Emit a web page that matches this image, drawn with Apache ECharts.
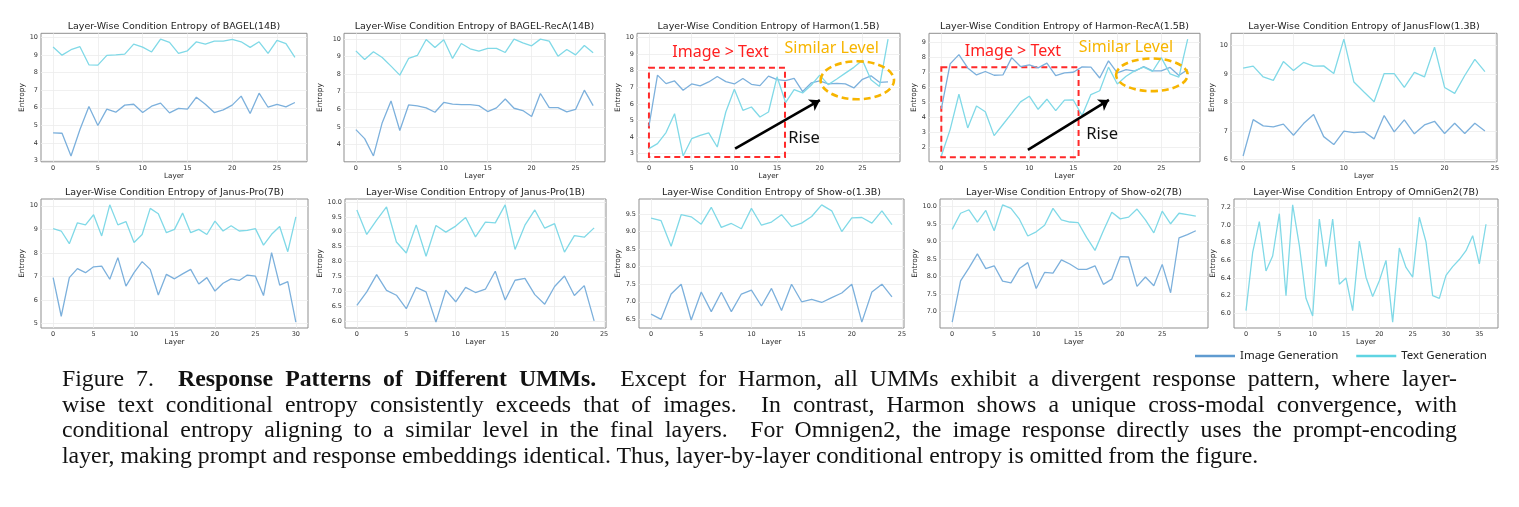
<!DOCTYPE html>
<html>
<head>
<meta charset="utf-8">
<title>Layer-Wise Condition Entropy</title>
<script src="https://cdn.jsdelivr.net/npm/echarts@6/dist/echarts.min.js"></script>
<style>
  body { margin: 0; background: #fff; }
  #chart { position: absolute; left: 0; top: 0; width: 1519px; height: 507px; }
  #caption { position: absolute; left: 62px; top: 366px; width: 1395px;
             font-family: "Liberation Serif", "Times New Roman", serif;
             font-size: 23.8px; line-height: 25.6px; color: #111; }
  #caption div { white-space: nowrap; text-align: justify; text-align-last: justify; }
  #caption div.last { text-align-last: left; }
</style>
</head>
<body>
<div id="chart"></div>
<div id="caption">
  <div>Figure 7.&nbsp; <b>Response Patterns of Different UMMs.</b>&nbsp; Except for Harmon, all UMMs exhibit a divergent response pattern, where layer-</div>
  <div>wise text conditional entropy consistently exceeds that of images.&nbsp; In contrast, Harmon shows a unique cross-modal convergence, with</div>
  <div>conditional entropy aligning to a similar level in the final layers.&nbsp; For Omnigen2, the image response directly uses the prompt-encoding</div>
  <div class="last">layer, making prompt and response embeddings identical. Thus, layer-by-layer conditional entropy is omitted from the figure.</div>
</div>
<script>
// entropy per layer (image generation / text generation)
var bagelImage = [4.57, 4.55, 3.26, 4.76, 6.07, 4.99, 5.92, 5.75, 6.15, 6.2, 5.73, 6.09, 6.26, 5.71, 5.96, 5.92, 6.6, 6.2, 5.73, 5.88, 6.15, 6.66, 5.67, 6.83, 6.03, 6.19, 6.05, 6.3];
var bagelText = [9.45, 8.99, 9.3, 9.47, 8.44, 8.42, 8.98, 9.0, 9.05, 9.62, 9.45, 9.17, 9.9, 9.72, 9.09, 9.24, 9.75, 9.62, 9.79, 9.79, 9.89, 9.75, 9.43, 9.75, 9.09, 9.83, 9.64, 8.86];
var bagelRecaImage = [4.84, 4.33, 3.34, 5.24, 6.48, 4.79, 6.25, 6.2, 6.08, 5.83, 6.39, 6.29, 6.27, 6.27, 6.21, 5.87, 6.08, 6.59, 6.06, 5.93, 5.59, 6.9, 6.1, 6.1, 5.85, 5.99, 7.09, 6.21];
var bagelRecaText = [9.33, 8.84, 9.28, 8.95, 8.46, 7.95, 8.9, 9.07, 9.98, 9.52, 9.96, 8.9, 9.75, 9.45, 9.32, 9.47, 9.47, 9.24, 10.0, 9.79, 9.62, 10.0, 9.89, 9.03, 9.41, 9.1, 9.64, 9.22];
var harmonImage = [4.65, 7.73, 7.22, 7.38, 6.82, 7.2, 7.08, 7.32, 7.65, 7.34, 7.2, 7.53, 7.18, 7.1, 7.67, 7.46, 7.4, 7.53, 6.74, 7.26, 7.38, 7.2, 7.24, 7.2, 6.96, 7.48, 7.69, 7.3, 7.32];
var harmonText = [3.3, 3.6, 4.27, 5.41, 2.86, 3.9, 4.1, 4.25, 3.4, 5.51, 6.88, 5.61, 5.81, 5.21, 5.51, 7.63, 6.08, 6.86, 6.66, 7.12, 7.73, 7.16, 7.5, 7.85, 8.2, 8.63, 7.45, 7.05, 9.9];
var harmonRecaImage = [4.55, 7.54, 8.15, 7.27, 6.8, 7.03, 6.78, 6.8, 7.95, 7.36, 7.47, 7.27, 7.59, 6.76, 6.94, 6.98, 7.34, 7.32, 6.6, 7.74, 6.94, 7.16, 7.05, 7.36, 7.07, 7.07, 7.3, 6.76, 7.16];
var harmonRecaText = [1.42, 3.17, 5.52, 3.28, 4.74, 4.36, 2.77, 3.51, 4.25, 5.01, 5.39, 4.52, 5.19, 4.43, 5.13, 5.14, 4.11, 5.5, 5.75, 7.32, 6.2, 6.71, 7.09, 7.32, 7.03, 7.95, 6.87, 6.65, 9.18];
var janusFlowImage = [6.12, 7.4, 7.18, 7.14, 7.24, 6.85, 7.26, 7.58, 6.8, 6.52, 6.99, 6.94, 6.97, 6.72, 7.54, 6.97, 7.39, 6.9, 7.21, 7.34, 6.91, 7.27, 6.91, 7.27, 7.0];
var janusFlowText = [9.21, 9.28, 8.9, 8.78, 9.44, 9.13, 9.41, 9.28, 9.29, 9.02, 10.23, 8.72, 8.37, 8.03, 9.02, 9.02, 8.53, 9.06, 8.9, 9.95, 8.53, 8.32, 8.95, 9.52, 9.09];
var janusPro7bImage = [6.95, 5.31, 6.95, 7.33, 7.16, 7.41, 7.44, 6.88, 7.8, 6.59, 7.16, 7.63, 7.3, 6.21, 7.09, 6.9, 7.11, 7.3, 6.68, 6.95, 6.38, 6.71, 6.9, 6.83, 7.06, 7.01, 6.19, 8.01, 6.63, 6.78, 5.06];
var janusPro7bText = [9.03, 8.93, 8.39, 9.28, 9.19, 9.62, 8.72, 10.04, 9.19, 9.33, 8.44, 8.78, 9.89, 9.66, 8.86, 9.0, 9.69, 8.86, 9.0, 8.78, 9.35, 8.93, 9.15, 8.93, 8.96, 9.03, 8.33, 8.79, 9.12, 8.05, 9.53];
var janusPro1bImage = [6.54, 6.99, 7.57, 7.04, 6.88, 6.43, 7.14, 6.99, 5.98, 7.05, 6.66, 7.14, 6.97, 7.08, 7.68, 6.72, 7.38, 7.44, 6.9, 6.58, 7.17, 7.52, 6.87, 7.2, 6.02];
var janusPro1bText = [9.73, 8.91, 9.39, 9.83, 8.66, 8.29, 9.23, 8.18, 9.21, 8.99, 9.19, 9.48, 8.83, 9.32, 9.3, 9.9, 8.41, 9.22, 9.73, 9.12, 9.27, 8.32, 8.87, 8.82, 9.13];
var showoImage = [6.65, 6.5, 7.22, 7.5, 6.48, 7.28, 6.72, 7.27, 6.72, 7.22, 7.33, 6.88, 7.38, 6.75, 7.5, 7.0, 7.07, 6.98, 7.12, 7.25, 7.5, 6.42, 7.28, 7.5, 7.14];
var showoText = [9.38, 9.31, 8.58, 9.48, 9.42, 9.21, 9.69, 9.12, 9.23, 9.08, 9.66, 9.18, 9.27, 9.48, 9.14, 9.24, 9.43, 9.76, 9.59, 9.0, 9.39, 9.4, 9.24, 9.59, 9.2];
var showo2Image = [6.7, 7.88, 8.25, 8.65, 8.23, 8.31, 7.87, 7.82, 8.23, 8.4, 7.66, 8.12, 8.1, 8.48, 8.36, 8.21, 8.21, 8.31, 7.78, 7.93, 8.57, 8.56, 7.72, 7.99, 7.74, 8.35, 7.54, 9.11, 9.2, 9.31];
var showo2Text = [9.35, 9.81, 9.91, 9.56, 9.89, 9.31, 10.05, 9.95, 9.64, 9.16, 9.28, 9.47, 9.95, 9.62, 9.56, 9.54, 9.12, 8.75, 9.31, 9.84, 9.65, 9.7, 9.93, 9.62, 9.25, 9.87, 9.51, 9.81, 9.77, 9.73];
var omnigen2Text = [6.03, 6.69, 7.04, 6.48, 6.65, 7.13, 6.2, 7.23, 6.77, 6.17, 5.97, 7.07, 6.53, 7.07, 6.33, 6.4, 6.03, 6.82, 6.41, 6.19, 6.37, 6.6, 5.9, 6.74, 6.52, 6.41, 7.09, 6.81, 6.2, 6.17, 6.43, 6.53, 6.61, 6.71, 6.88, 6.56, 7.01];

var modelNames = ['BAGEL(14B)', 'BAGEL-RecA(14B)', 'Harmon(1.5B)', 'Harmon-RecA(1.5B)', 'JanusFlow(1.3B)',
                  'Janus-Pro(7B)', 'Janus-Pro(1B)', 'Show-o(1.3B)', 'Show-o2(7B)', 'OmniGen2(7B)'];
var seriesNames = ['Image Generation', 'Text Generation'];

var xTicks25 = [0, 5, 10, 15, 20, 25];
var xTicks30 = [0, 5, 10, 15, 20, 25, 30];
var xTicks35 = [0, 5, 10, 15, 20, 25, 30, 35];
var yTicks3to10 = [3, 4, 5, 6, 7, 8, 9, 10];
var yTicks1to9 = [1, 2, 3, 4, 5, 6, 7, 8, 9];
var yTicks6to10 = [6, 7, 8, 9, 10];
var yTicks5to10 = [5, 6, 7, 8, 9, 10];
var yTicksJanusPro1b = [6.0, 6.5, 7.0, 7.5, 8.0, 8.5, 9.0, 9.5, 10.0];
var yTicksShowo = [6.5, 7.0, 7.5, 8.0, 8.5, 9.0, 9.5];
var yTicksShowo2 = [7.0, 7.5, 8.0, 8.5, 9.0, 9.5, 10.0];
var yTicksOmnigen2 = [6.0, 6.2, 6.4, 6.6, 6.8, 7.0, 7.2];

var panels = [
    { image: bagelImage, text: bagelText, xTicks: xTicks25, yTicks: yTicks3to10, dec: false },
    { image: bagelRecaImage, text: bagelRecaText, xTicks: xTicks25, yTicks: yTicks3to10, dec: false },
    { image: harmonImage, text: harmonText, xTicks: xTicks25, yTicks: yTicks3to10, dec: false },
    { image: harmonRecaImage, text: harmonRecaText, xTicks: xTicks25, yTicks: yTicks1to9, dec: false },
    { image: janusFlowImage, text: janusFlowText, xTicks: xTicks25, yTicks: yTicks6to10, dec: false },
    { image: janusPro7bImage, text: janusPro7bText, xTicks: xTicks30, yTicks: yTicks5to10, dec: false },
    { image: janusPro1bImage, text: janusPro1bText, xTicks: xTicks25, yTicks: yTicksJanusPro1b, dec: true },
    { image: showoImage, text: showoText, xTicks: xTicks25, yTicks: yTicksShowo, dec: true },
    { image: showo2Image, text: showo2Text, xTicks: xTicks25, yTicks: yTicksShowo2, dec: true },
    { image: null, text: omnigen2Text, xTicks: xTicks35, yTicks: yTicksOmnigen2, dec: true }
];

// plot box of each panel: [left, right, gap of the "Entropy" label]
var boxes = [[41, 307, 13], [344, 605, 20], [637, 900, 13], [929, 1200, 10], [1231, 1497, 14],
             [41, 308, 13], [345, 606, 19], [639, 904, 15], [940, 1208, 21], [1234, 1498, 15]];
var rows = [{ top: 33.3, height: 128.5, title: 26.7, layerGap: 11 },
            { top: 199, height: 129, title: 193, layerGap: 10 }];

var imageColor = '#7cb0dc';
var textColor = '#80d9e7';
var FONT = 'DejaVu Sans';
var NOTE_FONT = '"Noto Sans"';

// PowerPoint style call-outs on the two Harmon panels, in data coordinates
var notes = {
    2: { box: [[0, 8.17], [15.93, 2.79]], arrow: [[10.09, 3.3], [20.02, 6.22]],
         ellipse: [24.4, 7.42, 36.7, 19], imgText: [8.38, 9.09], similar: [21.4, 9.34], rise: [16.3, 3.9] },
    3: { box: [[0, 7.32], [15.6, 1.34]], arrow: [[9.84, 1.83], [19.05, 5.14]],
         ellipse: [23.93, 6.81, 35.8, 16.3], imgText: [8.14, 8.33], similar: [20.98, 8.62], rise: [16.48, 2.84] }
};

function padded(lists) {
    var all = [];
    lists.forEach(function (l) { if (l) all = all.concat(l); });
    var lo = Math.min.apply(null, all), hi = Math.max.apply(null, all);
    var m = (hi - lo) * 0.05;
    return [lo - m, hi + m];
}

var grids = [], xAxes = [], yAxes = [], titles = [], series = [];

panels.forEach(function (p, k) {
    var b = boxes[k];
    var row = rows[k < 5 ? 0 : 1];
    var n = p.text.length - 1;
    var yr = padded([p.image, p.text]);

    grids.push({ left: b[0], width: b[1] - b[0], top: row.top, height: row.height,
                 show: true, borderColor: '#8f8f8f', borderWidth: 1, backgroundColor: 'transparent' });

    titles.push({ text: 'Layer-Wise Condition Entropy of ' + modelNames[k], left: (b[0] + b[1]) / 2, top: row.title,
                  textAlign: 'center', textVerticalAlign: 'middle', padding: 0,
                  textStyle: { fontFamily: FONT, fontSize: 9.5, fontWeight: 'normal', color: '#222' } });

    xAxes.push({ type: 'value', gridIndex: k, min: -0.05 * n, max: 1.05 * n,
                 name: 'Layer', nameLocation: 'middle', nameGap: row.layerGap,
                 nameTextStyle: { fontFamily: FONT, fontSize: 7.2, color: '#222' },
                 axisLine: { show: false }, axisTick: { show: false, customValues: p.xTicks },
                 axisLabel: { customValues: p.xTicks, fontFamily: FONT, fontSize: 6.5, color: '#333', margin: 3 },
                 splitLine: { show: true, lineStyle: { color: '#ececec', width: 0.8 } } });

    yAxes.push({ type: 'value', gridIndex: k, min: yr[0], max: yr[1],
                 name: 'Entropy', nameLocation: 'middle', nameGap: b[2], nameRotate: 90,
                 nameTextStyle: { fontFamily: FONT, fontSize: 7.4, color: '#222' },
                 axisLine: { show: false }, axisTick: { show: false, customValues: p.yTicks },
                 axisLabel: { customValues: p.yTicks, fontFamily: FONT, fontSize: 6.5, color: '#333', margin: 3,
                              formatter: function (v) { return p.dec ? v.toFixed(1) : String(Math.round(v)); } },
                 splitLine: { show: true, lineStyle: { color: '#ececec', width: 0.8 } } });

    if (p.image) {
        series.push({ name: seriesNames[0], type: 'line', xAxisIndex: k, yAxisIndex: k,
                      data: p.image.map(function (v, i) { return [i, v]; }),
                      showSymbol: false, color: imageColor, lineStyle: { width: 1.3 }, silent: true, animation: false });
    }
    var textSeries = { name: seriesNames[1], type: 'line', xAxisIndex: k, yAxisIndex: k,
                       data: p.text.map(function (v, i) { return [i, v]; }),
                       showSymbol: false, color: textColor, lineStyle: { width: 1.3 }, silent: true, animation: false };
    var note = notes[k];
    if (note) {
        textSeries.markArea = { silent: true, label: { show: false },
            itemStyle: { color: 'rgba(0,0,0,0)', borderColor: '#ff2a2a', borderWidth: 2, borderType: [6, 4] },
            data: [[{ coord: note.box[0] }, { coord: note.box[1] }]] };
        textSeries.markLine = { silent: true, symbol: ['none', 'arrow'], symbolSize: 10, label: { show: false },
            lineStyle: { color: '#000', width: 2.6, type: 'solid' },
            data: [[{ coord: note.arrow[0] }, { coord: note.arrow[1] }]] };
    }
    series.push(textSeries);
});

var chart = echarts.init(document.getElementById('chart'));
chart.setOption({
    animation: false,
    backgroundColor: '#fff',
    title: titles,
    grid: grids,
    xAxis: xAxes,
    yAxis: yAxes,
    legend: {
        left: 1195, top: 350, padding: 0, itemWidth: 40, itemHeight: 2.5, itemGap: 18, icon: 'rect',
        textStyle: { fontFamily: NOTE_FONT, fontSize: 11.5, color: '#222' },
        data: [{ name: seriesNames[0], itemStyle: { color: '#5f9bd0' } },
               { name: seriesNames[1], itemStyle: { color: '#5fd4e2' } }]
    },
    series: series
});

// call-out texts and the dashed ellipses, placed through the axes
var extras = [];
Object.keys(notes).forEach(function (key) {
    var k = +key, note = notes[k];
    var finder = { xAxisIndex: k, yAxisIndex: k };
    var c = chart.convertToPixel(finder, [note.ellipse[0], note.ellipse[1]]);
    extras.push({ type: 'ellipse', shape: { cx: c[0], cy: c[1], rx: note.ellipse[2], ry: note.ellipse[3] },
                  style: { fill: 'none', stroke: '#f7b500', lineWidth: 2.6, lineDash: [7, 4] }, silent: true, z: 10 });
    var a = chart.convertToPixel(finder, note.imgText);
    extras.push({ type: 'text', x: a[0], y: a[1], silent: true, z: 10,
                  style: { text: 'Image > Text', font: '16px ' + NOTE_FONT, fill: '#ff2020', align: 'center', verticalAlign: 'middle' } });
    var s = chart.convertToPixel(finder, note.similar);
    extras.push({ type: 'text', x: s[0], y: s[1], silent: true, z: 10,
                  style: { text: 'Similar Level', font: '16px ' + NOTE_FONT, fill: '#f7b500', align: 'center', verticalAlign: 'middle' } });
    var r = chart.convertToPixel(finder, note.rise);
    extras.push({ type: 'text', x: r[0], y: r[1], silent: true, z: 10,
                  style: { text: 'Rise', font: '16.5px ' + NOTE_FONT, fill: '#111', align: 'left', verticalAlign: 'middle' } });
});
chart.setOption({ graphic: extras });
</script>
</body>
</html>
